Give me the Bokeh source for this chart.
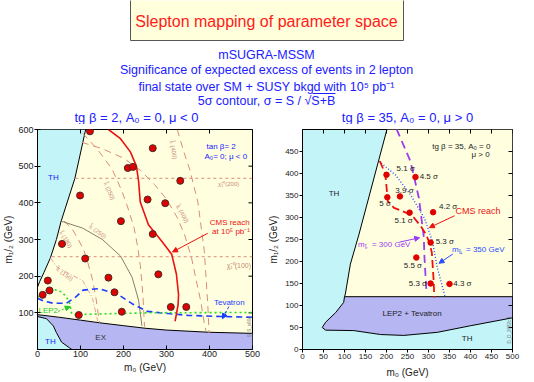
from bokeh.plotting import figure
from bokeh.models import Range1d, FixedTicker, Arrow, NormalHead
from bokeh.layouts import column, row
from bokeh.embed import file_html
from bokeh.resources import INLINE
from bokeh.core.properties import value
import math

FONT = "Liberation Sans"
BLUE = "#2020ff"
CYAN = "#c2f4f8"
CREAM = "#ffffe0"
LAV = "#b6b6f2"
SALMON = "#d98c76"

# ---------------- header text ----------------
title_text = "Slepton mapping of parameter space"
header_lines = ["mSUGRA-MSSM",
                "Significance of expected excess of events in 2 lepton",
                "final state over SM + SUSY bkgd with 10\u2075 pb\u207b\u00b9",
                "5\u03c3 contour, \u03c3 = S / \u221aS+B"]
sub_left = "tg \u03b2 = 2, A\u2080 = 0, \u03bc < 0"
sub_right = "tg \u03b2 = 35, A\u2080 = 0, \u03bc > 0"

# ---------------- left panel: tg beta = 2 ----------------
L_xticks = [0, 100, 200, 300, 400, 500]
L_yticks = [100, 200, 300, 400, 500, 600]
L_pts_m0 = [122, 210, 222, 99, 194, 268, 332, 256, 297, 268, 57, 111, 24, 165, 28, 12, 179, 96, 196, 281, 310, 346]
L_pts_m12 = [595, 495, 498, 420, 350, 549, 460, 409, 399, 315, 288, 248, 188, 196, 161, 149, 156, 94, 103, 205, 116, 116]
L_th_up_m0 = [0, 112, 87, 55, 44, 30, 15, 5, 0]
L_th_up_m12 = [600, 600, 467, 350, 300, 250, 210, 185, 170]
L_th_lo_m0 = [0, 0, 21, 37, 44, 56, 75, 80]
L_th_lo_m12 = [0, 90, 84, 64, 46, 20, 4, 0]
L_ex_top_m0 = [0, 50, 100, 150, 200, 250, 300, 400, 500]
L_ex_top_m12 = [95, 88, 80, 72, 65, 58, 53, 47, 44]
L_cms_m0 = [165, 193, 216, 230, 235, 239, 258, 289, 312, 323, 328, 327, 320]
L_cms_m12 = [600, 575, 539, 500, 460, 402, 340, 295, 260, 206, 150, 122, 77]
L_tev_m0 = [0, 15, 37, 67, 90, 106, 144, 190, 220, 255, 304, 350, 427, 500]
L_tev_m12 = [140, 132, 126, 126, 144, 162, 166, 148, 125, 104, 98, 93, 90, 88]
L_lep_m0 = [0, 15, 29, 44, 56, 67, 75, 79, 83, 144, 255, 500]
L_lep_m12 = [143, 158, 166, 162, 157, 144, 126, 100, 95, 97, 100, 101]
L_chi200_m0 = [88, 500]
L_chi200_m12 = [467, 467]
L_chi100_m0 = [33, 500]
L_chi100_m12 = [253, 253]
L_lR250_m0 = [105, 140, 174, 197, 212, 225, 233, 239, 243, 246, 248, 249]
L_lR250_m12 = [590, 545, 491, 430, 380, 330, 280, 230, 180, 130, 80, 62]
L_lL400_m0 = [103, 150, 200, 240, 272, 300, 325, 342, 358, 369, 380, 388, 392]
L_lL400_m12 = [565, 548, 522, 488, 450, 410, 360, 313, 251, 189, 130, 70, 50]
L_lR400_m0 = [325, 340, 354, 373, 388, 396, 399]
L_lR400_m12 = [600, 540, 491, 402, 268, 122, 45]
L_lR150_m0 = [62, 80, 95, 108, 117, 128, 136, 144]
L_lR150_m12 = [350, 330, 300, 270, 237, 190, 140, 73]
L_lL250_m0 = [55, 105, 151, 193, 220, 235, 243]
L_lL250_m12 = [350, 331, 300, 255, 197, 135, 64]
L_lL150_m0 = [30, 46, 75, 105, 128, 140]
L_lL150_m12 = [250, 224, 206, 188, 140, 77]

# ---------------- right panel: tg beta = 35 ----------------
R_xticks = [0, 50, 100, 150, 200, 250, 300, 350, 400, 450, 500]
R_yticks = [0, 50, 100, 150, 200, 250, 300, 350, 400, 450]
R_allowed_m0 = [201, 134, 114, 102, 100, 500, 500]
R_allowed_m12 = [500, 260, 194, 126, 120, 120, 500]
R_excl_m0 = [100, 500, 500, 400, 321, 241, 186, 122, 55, 47, 55, 79, 98]
R_excl_m12 = [120, 120, 72, 54, 39, 32, 34, 43, 44, 50, 62, 84, 107]
R_slepR_m0 = [224, 257, 277, 289, 290, 295]
R_slepR_m12 = [501, 428, 345, 254, 216, 133]
R_slepL_m0 = [182, 221, 257, 290, 309, 321, 340]
R_slepL_m12 = [428, 397, 352, 299, 247, 186, 118]
R_cms_m0 = [184, 197, 200, 203, 218, 249, 265, 282, 295, 303, 308, 312, 314]
R_cms_m12 = [428, 400, 370, 337, 322, 310, 300, 280, 260, 240, 220, 160, 118]
R_pts_m0 = [200, 269, 202, 232, 255, 311, 305, 271, 305, 350]
R_pts_m12 = [397, 392, 346, 348, 311, 312, 243, 209, 150, 149]
R_sig = ["5.1 \u03c3", "4.5 \u03c3", "5 \u03c3", "3.9 \u03c3", "5.1 \u03c3", "4.2 \u03c3", "5.3 \u03c3", "5.5 \u03c3", "5.3 \u03c3", "4.3 \u03c3"]
R_sig_m0 = [224, 279, 183, 221, 219, 325, 317, 241, 253, 359]
R_sig_m12 = [412, 394, 331, 362, 293, 324, 245, 192, 150, 149]


def txt(p, x, y, s, size, color, align="left", baseline="middle", angle=0.0, xo=0, yo=0):
    p.text(x=[x], y=[y], text=[s], text_font=value(FONT), text_font_size=value(f"{size}px"),
           text_color=color, text_align=align, text_baseline=baseline, angle=angle,
           x_offset=xo, y_offset=yo)


def arrow(p, x0, y0, x1, y1, color, dash="solid"):
    p.add_layout(Arrow(end=NormalHead(size=5, fill_color=color, line_color=color),
                       x_start=x0, y_start=y0, x_end=x1, y_end=y1,
                       line_color=color, line_width=1, line_dash=dash))


def style_axes(p, xt, yt, tick_font, label_font, xin, xout, yin, yout, xstand, ystand):
    p.xaxis.ticker = FixedTicker(ticks=xt)
    p.yaxis.ticker = FixedTicker(ticks=yt)
    for ax in (p.xaxis[0], p.yaxis[0]):
        ax.major_label_text_font = FONT
        ax.major_label_text_font_size = f"{tick_font}px"
        ax.major_label_text_color = "#222222"
        ax.axis_label_text_font = FONT
        ax.axis_label_text_font_size = f"{label_font}px"
        ax.axis_label_text_font_style = "normal"
        ax.axis_label_text_color = "#222222"
        ax.minor_tick_line_color = None
        ax.axis_line_color = "black"
        ax.major_tick_line_color = "black"
        ax.major_label_standoff = 1
    p.xaxis.axis_label_standoff = xstand
    p.yaxis.axis_label_standoff = ystand
    p.xaxis.major_tick_in = xin
    p.xaxis.major_tick_out = xout
    p.yaxis.major_tick_in = yin
    p.yaxis.major_tick_out = yout
    p.xaxis.axis_label = "m\u2080 (GeV)"
    p.yaxis.axis_label = "m\u2081/\u2082 (GeV)"
    # inward ticks on the top and right frame edges (half of each dash is clipped)
    ytop = p.y_range.end
    xright = p.x_range.end
    p.scatter(x=xt, y=[ytop] * len(xt), marker="dash", angle=math.pi / 2, size=8,
              line_color="black", line_width=1)
    p.scatter(x=[xright] * len(yt), y=yt, marker="dash", size=8, line_color="black", line_width=1)


# ================= header =================
H = figure(width=534, height=124, x_range=Range1d(0, 534), y_range=Range1d(124, 0),
           toolbar_location=None, output_backend="svg", min_border=0,
           x_axis_location=None, y_axis_location=None)
H.outline_line_color = None
H.grid.visible = False
H.background_fill_color = "white"
H.quad(left=[130], right=[403], top=[-2], bottom=[40], fill_color="#ffffdc", line_color="#555555", line_width=1)
txt(H, 266, 21, title_text, 16, "#ff1a1a", align="center")
for s, yy in zip(header_lines, [54, 69, 86, 100]):
    txt(H, 266, yy, s, 12.5, BLUE, align="center")
H.segment(x0=[312], y0=[93], x1=[335], y1=[93], line_color=BLUE, line_width=1)
txt(H, 136, 117, sub_left, 13, BLUE, align="center")
txt(H, 407, 117, sub_right, 13, BLUE, align="center")

# ================= left panel =================
L = figure(width=262, height=258, x_range=Range1d(0, 500), y_range=Range1d(0, 600),
           toolbar_location=None, output_backend="svg",
           min_border_left=34, min_border_right=10, min_border_top=5, min_border_bottom=28)
L.grid.visible = False
L.background_fill_color = CREAM
L.border_fill_color = "white"
L.outline_line_color = "black"

# regions
ex_x = L_ex_top_m0 + [500, 80] + L_th_lo_m0[::-1][:-1]
ex_y = L_ex_top_m12 + [0, 0] + L_th_lo_m12[::-1][:-1]
L.patch(ex_x, ex_y, fill_color=LAV, line_color=None)
L.patch(L_th_lo_m0, L_th_lo_m12, fill_color=CYAN, line_color=None)
L.patch(L_th_up_m0, L_th_up_m12, fill_color=CYAN, line_color=None)
L.line(L_th_up_m0[1:], L_th_up_m12[1:], line_color="black", line_width=1)
L.line(L_th_lo_m0[1:], L_th_lo_m12[1:], line_color="black", line_width=1)
L.line(L_ex_top_m0, L_ex_top_m12, line_color="black", line_width=1)

style_axes(L, L_xticks, L_yticks, 9, 10, 4, 0, 3, 3, 2, 1)

# contours
L.line(L_chi200_m0, L_chi200_m12, line_color=SALMON, line_width=1, line_dash="3 3")
L.line(L_chi100_m0, L_chi100_m12, line_color=SALMON, line_width=1, line_dash="3 3")
for xs, ys in [(L_lR250_m0, L_lR250_m12), (L_lL400_m0, L_lL400_m12),
               (L_lR400_m0, L_lR400_m12), (L_lR150_m0, L_lR150_m12)]:
    L.line(xs, ys, line_color=SALMON, line_width=1, line_dash="7 5")
L.line(L_lL250_m0, L_lL250_m12, line_color="#6b5a50", line_width=0.8)
L.line(L_lL150_m0, L_lL150_m12, line_color="#e6a0a0", line_width=1, line_dash="5 2 1 2")

lab = "#c98a78"
txt(L, 167, 432, "l\u0303\u1d63 (250)", 6, lab, align="center", angle=-1.15)
txt(L, 316, 544, "l\u0303\u1d63 (400)", 6, lab, align="center", angle=-1.4)
txt(L, 337, 370, "l\u0303\u029f (400)", 6, lab, align="center", angle=-1.05)
txt(L, 140, 322, "l\u0303\u029f (250)", 6, lab, align="center", angle=-0.65)
txt(L, 63, 206, "l\u0303\u029f (150)", 6, lab, align="center", angle=-0.65)
txt(L, 66, 300, "l\u0303\u1d63 (180)", 6, lab, align="center", angle=-1.0)
txt(L, 420, 451, "\u03c7\u0303\u2081\u2070(200)", 6, lab, align="left")
txt(L, 440, 228, "\u03c7\u0303\u2081\u2070(100)", 7, lab, align="left")

# Tevatron / LEP2
L.line(L_tev_m0, L_tev_m12, line_color="#1a3cff", line_width=1.6, line_dash="6 4")
L.line(L_lep_m0, L_lep_m12, line_color="#22dd22", line_width=1.6, line_dash="2 3")

# CMS reach
L.line(L_cms_m0, L_cms_m12, line_color="#ee1111", line_width=1.6)
L.scatter(L_pts_m0, L_pts_m12, size=7, fill_color="#e00000", line_color="#4a2a2a", line_width=1)

txt(L, 37, 470, "TH", 8, BLUE, align="center")
txt(L, 30, 21, "TH", 8, BLUE, align="center")
txt(L, 147, 32, "EX", 8, "#333333", align="center")
txt(L, 427, 553, "tan \u03b2= 2", 8, BLUE, align="center")
txt(L, 438, 526, "A\u2080= 0; \u03bc < 0", 8, BLUE, align="center")
txt(L, 447, 347, "CMS reach", 8, "#ee1111", align="center")
txt(L, 450, 322, "at 10\u2075 pb\u207b\u00b9", 8, "#ee1111", align="center")
arrow(L, 396, 317, 314, 266, "#ee1111")
txt(L, 446, 129, "Tevatron", 8, "#1a3cff", align="center")
arrow(L, 445, 117, 430, 84, "#1a3cff", dash="3 2")
txt(L, 25, 107, "LEP2", 8, "#22cc22", align="center")
arrow(L, 48, 104, 76, 117, "#22cc22", dash="2 2")
txt(L, 493, 62, "S_S_s66e", 4.5, "#777777", align="center", angle=math.pi / 2)

# ================= right panel =================
R = figure(width=272, height=258, x_range=Range1d(0, 500), y_range=Range1d(0, 500),
           toolbar_location=None, output_backend="svg",
           min_border_left=40, min_border_right=22, min_border_top=3, min_border_bottom=33)
R.grid.visible = False
R.background_fill_color = CYAN
R.border_fill_color = "white"
R.outline_line_color = "black"

R.patch(R_allowed_m0, R_allowed_m12, fill_color=CREAM, line_color=None)
R.line(R_allowed_m0[:5], R_allowed_m12[:5], line_color="black", line_width=1)
R.patch(R_excl_m0, R_excl_m12, fill_color=LAV, line_color="black", line_width=1)

style_axes(R, R_xticks, R_yticks, 8, 10, 0, 3, 0, 3, 5, 3)

R.line(R_slepR_m0, R_slepR_m12, line_color="#9a3cf0", line_width=1.8, line_dash="8 5")
R.line(R_slepL_m0, R_slepL_m12, line_color="#2a4cff", line_width=1.4, line_dash="1 2")
R.line(R_cms_m0, R_cms_m12, line_color="#ee1111", line_width=1.8, line_dash="8 4")
R.scatter(R_pts_m0, R_pts_m12, size=5.5, fill_color="#e00000", line_color="#e00000")
R.text(x=R_sig_m0, y=R_sig_m12, text=R_sig, text_font=value(FONT), text_font_size=value("8px"),
       text_color="#222222", text_align="left", text_baseline="middle")

txt(R, 75, 354, "TH", 8, "#222222", align="center")
txt(R, 392, 24, "TH", 8, "#222222", align="center")
txt(R, 261, 81, "LEP2 + Tevatron", 8, "#222222", align="center")
txt(R, 378, 461, "tg \u03b2 = 35, A\u2080 = 0", 8, "#222222", align="center")
txt(R, 424, 443, "\u03bc > 0", 8, "#222222", align="center")
txt(R, 364, 314, "CMS reach", 9, "#ee1111", align="left")
arrow(R, 362, 304, 302, 277, "#ee1111")
# m_{l~R} = 300 GeV
txt(R, 132, 239, "m", 8, "#9a3cf0")
txt(R, 132, 239, "l\u0303\u1d63", 6, "#9a3cf0", xo=7, yo=3)
txt(R, 132, 239, "= 300 GeV", 8, "#9a3cf0", xo=14)
arrow(R, 231, 244, 279, 254, "#9a3cf0")
# m_{l~L} = 350 GeV
txt(R, 356, 228, "m", 8, "#2a4cff")
txt(R, 356, 228, "l\u0303\u029f", 6, "#2a4cff", xo=7, yo=3)
txt(R, 356, 228, "= 350 GeV", 8, "#2a4cff", xo=14)
arrow(R, 358, 217, 325, 196, "#2a4cff")
txt(R, 492, 45, "D_D_2682c.1", 4.5, "#777777", align="center", angle=math.pi / 2)

layout = column(H, row(L, R))
open("out.html", "w").write(file_html(layout, INLINE))
